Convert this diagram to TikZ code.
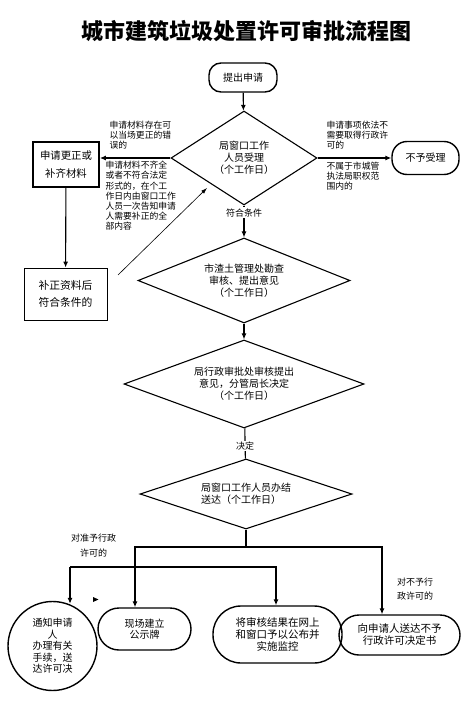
\documentclass[tikz,border=0pt]{standalone}
\usepackage{fontspec}
\setmainfont{Noto Sans CJK SC}
\usetikzlibrary{shapes.geometric,arrows.meta}

\begin{document}
\begin{tikzpicture}[x=1pt,y=-1pt,line width=1.1pt]
\useasboundingbox (0,0) rectangle (471,703);

\tikzstyle{judge} = [diamond,draw,inner sep=0pt,align=center,font=\fontsize{10}{12}\selectfont];
\tikzstyle{term} = [draw,line width=1.4pt,align=center,font=\fontsize{10}{11.5}\selectfont];
\tikzstyle{note} = [inner sep=0pt,align=left,font=\fontsize{8.8}{10.2}\selectfont];
\tikzstyle{arr} = [-{Latex[length=6pt,width=5pt]},line width=1.1pt];

\node[font=\fontsize{22}{26}\selectfont\bfseries] (t) at (246.5,31) {城市建筑垃圾处置许可审批流程图};

\node[term,rounded corners=12pt,minimum width=68pt,minimum height=29pt] (v1) at (243,77.5) {提出申请};
\node[judge,minimum width=146pt,minimum height=94pt,aspect=1.55] (v2) at (244,158) {局窗口工作\\人员受理\\（个工作日）};
\node[term,line width=1.8pt,minimum width=66pt,minimum height=45pt,font=\fontsize{10.4}{18}\selectfont] (v3) at (66,164.5) {申请更正或\\补齐材料};
\node[term,line width=0.9pt,minimum width=83pt,minimum height=52pt,font=\fontsize{10.8}{17}\selectfont] (v4) at (65.5,294) {补正资料后\\符合条件的};
\node[term,rounded corners=15pt,minimum width=67pt,minimum height=33pt] (v5) at (425.5,158) {不予受理};
\node[judge,minimum width=212pt,minimum height=85pt,aspect=2.4] (v6) at (244,280.5) {市渣土管理处勘查\\审核、提出意见\\（个工作日）};
\node[judge,minimum width=240pt,minimum height=88pt,aspect=2.6] (v7) at (244,384) {局行政审批处审核提出\\意见，分管局长决定\\（个工作日）};
\node[judge,align=left,minimum width=212pt,minimum height=70pt,aspect=3] (v8) at (246,494) {局窗口工作人员办结\\送达（个工作日）};

% 下方结果
\node[term,circle,inner sep=0pt,minimum size=89pt] (v9) at (52.5,646) {通知申请\\人\\办理有关\\手续，送\\达许可决};
\node[term,rounded corners=21pt,minimum width=93pt,minimum height=42pt,font=\fontsize{10}{10.5}\selectfont] (v10) at (144.5,629) {现场建立\\公示牌};
\node[term,rounded corners=28pt,minimum width=129pt,minimum height=57pt,font=\fontsize{10.5}{12}\selectfont] (v11) at (277.5,634.5) {将审核结果在网上\\和窗口予以公布并\\实施监控};
\node[term,rounded corners=20pt,minimum width=121pt,minimum height=40pt,font=\fontsize{10.5}{12}\selectfont] (v12) at (399.5,635) {向申请人送达不予\\行政许可决定书};

\draw[arr] (v1) -- (v2);
\draw[arr] (v2.west) -- (v2.west -| v3.east);
\draw[arr] (v2) -- (v5);
\draw[arr] (v3) -- (v4);
\coordinate (c1) at (118,275);
\coordinate (c2) at (207,188);
\draw[-{Latex[length=6pt,width=4pt]},line width=0.6pt] (c1) -- (c2);
\draw[arr] (v2) -- node[pos=0.22,fill=white,inner sep=1pt,font=\fontsize{9}{10}\selectfont] {符合条件} (v6);
\draw[arr] (v6) -- (v7);
\draw (v7) -- node[pos=0.58,fill=white,inner sep=1pt,font=\fontsize{9}{10}\selectfont] {决定} (v8);

\node[note,anchor=west] (n1) at (109,135) {申请材料存在可\\以当场更正的错\\误的};
\node[note,anchor=west] (n2) at (105,196) {申请材料不齐全\\或者不符合法定\\形式的，在个工\\作日内由窗口工作\\人员一次告知申请\\人需要补正的全\\部内容};
\node[note,anchor=west] (n3) at (326,135) {申请事项依法不\\需要取得行政许\\可的};
\node[note,anchor=west] (n4) at (326,176) {不属于市城管\\执法局职权范\\围内的};

\coordinate (j1) at (246,547);
\coordinate (j2) at (135,547);
\coordinate (j3) at (382,547);
\coordinate (k1) at (70,567);
\coordinate (k2) at (276,567);
\draw (v8) -- (j1);
\draw[arr] (j1) -- (j2) -- (j2 |- v10.north);
\draw[arr] (j1) -- (j3) -- (j3 |- v12.north);
\draw[arr] (k1) -- (k2) -- (k2 |- v11.north);
\draw[arr] (k1) -- ([yshift=-3pt]k1 |- v9.north);
\fill (93,597) -- (98.5,599.5) -- (93,602) -- cycle;

\node[align=center,font=\fontsize{9}{15}\selectfont] (n5) at (93.5,545.5) {对准予行政\\许可的};
\node[align=center,font=\fontsize{9}{14}\selectfont] (n6) at (415,589) {对不予行\\政许可的};
\end{tikzpicture}
\end{document}
